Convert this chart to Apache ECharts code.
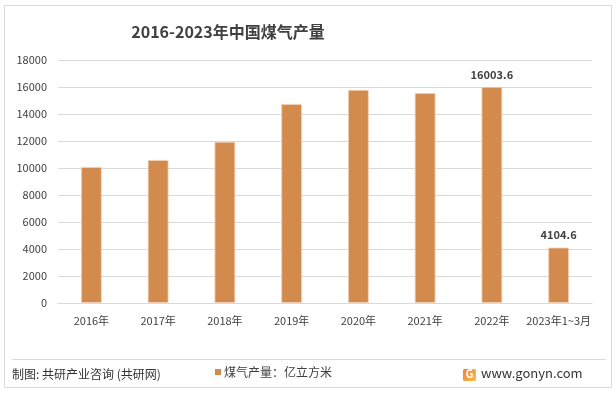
<!DOCTYPE html>
<html>
<head>
<meta charset="utf-8">
<script src="https://cdn.jsdelivr.net/npm/echarts@6/dist/echarts.min.js"></script>
<style>
html,body{margin:0;padding:0;background:#fff;}
#c{width:616px;height:394px;}
</style>
</head>
<body>
<div id="c"></div>
<script>
const categories = ['2016年','2017年','2018年','2019年','2020年','2021年','2022年','2023年1~3月'];
const values = [10070, 10590, 11930, 14740, 15780, 15550, 16003.6, 4104.6];
const labeledIndices = [6, 7];
const seriesName = '煤气产量：亿立方米';
const titleText = '2016-2023年中国煤气产量';
const sourceText = '制图: 共研产业咨询 (共研网)';
const siteText = 'www.gonyn.com';

const FONT = '"Noto Sans CJK SC", "Noto Sans", sans-serif';
const chart = echarts.init(document.getElementById('c'), null, {renderer: 'canvas'});

chart.setOption({
  animation: false,
  backgroundColor: '#ffffff',
  textStyle: {fontFamily: FONT},
  title: {
    text: titleText,
    left: 223, top: 19, textAlign: 'center',
    textStyle: {fontFamily: FONT, fontSize: 16, fontWeight: 'bold', color: '#404040'}
  },
  legend: {
    data: [seriesName],
    left: 210, top: 361,
    icon: 'rect', itemWidth: 6, itemHeight: 6, itemGap: 4,
    itemStyle: {borderWidth: 0},
    textStyle: {fontFamily: FONT, fontSize: 12, color: '#404040', padding: [0,0,0,-2]}
  },
  grid: {left: 58, right: 24, top: 60, bottom: 91, containLabel: false},
  xAxis: {
    type: 'category',
    data: categories,
    axisLine: {show: true, lineStyle: {color: '#d9d9d9'}},
    axisTick: {show: false},
    axisLabel: {fontFamily: FONT, fontSize: 11, color: '#404040', margin: 12, interval: 0}
  },
  yAxis: {
    type: 'value',
    min: 0, max: 18000, interval: 2000,
    axisLine: {show: false},
    axisTick: {show: false},
    splitLine: {lineStyle: {color: '#d9d9d9', width: 1}},
    axisLabel: {fontFamily: FONT, fontSize: 11, color: '#404040', margin: 11,
      formatter: v => String(v)}
  },
  series: [{
    name: seriesName,
    type: 'bar',
    barWidth: '31%',
    data: values.map((v, i) => ({
      value: v,
      label: {show: labeledIndices.includes(i)}
    })),
    itemStyle: {color: '#D38B4D', borderColor: '#F1D2B6', borderWidth: 0.8},
    label: {
      position: 'top', distance: 7,
      fontFamily: FONT, fontSize: 11, fontWeight: 'bold', color: '#404040'
    }
  }],
  graphic: [
    {type: 'rect', shape: {x: 4.5, y: 5.5, width: 607, height: 382},
     style: {fill: 'none', stroke: '#d9d9d9', lineWidth: 1}, silent: true, z: -1},
    {type: 'line', shape: {x1: 12, y1: 359.5, x2: 606, y2: 359.5},
     style: {stroke: '#d9d9d9', lineWidth: 1}},
    {type: 'text', left: 12, top: 368,
     style: {text: sourceText, font: '12px ' + FONT, fill: '#333333'}},
    {type: 'rect', shape: {x: 463, y: 369, width: 13, height: 12, r: 1.5},
     style: {fill: new echarts.graphic.LinearGradient(0,0,1,1,[{offset:0,color:'#F07A3A'},{offset:1,color:'#F9C24A'}])}},
    {type: 'text', left: 465.5, top: 368.5,
     style: {text: 'G', font: 'bold 11px ' + FONT, fill: '#ffffff'}},
    {type: 'text', left: 481, top: 367,
     style: {text: siteText, font: '13px ' + FONT, fill: '#333333'}}
  ]
});
</script>
</body>
</html>
